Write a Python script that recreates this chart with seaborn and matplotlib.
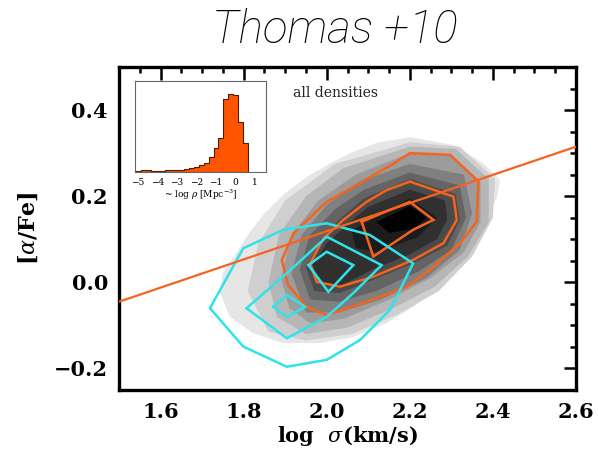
import numpy as np
import pandas as pd
import matplotlib
matplotlib.use("Agg")
import matplotlib.pyplot as plt
from matplotlib.ticker import MultipleLocator, FuncFormatter
import seaborn as sns

# ---- data -------------------------------------------------------------
# linear [alpha/Fe] - sigma relation
fit_sigma = [1.5, 2.6]
fit_alpha = [-0.045, 0.315]

# density levels of the full sample (outermost -> innermost), (log sigma, [a/Fe])
all_lvl1 = [(2.200, 0.337), (2.304, 0.319), (2.376, 0.277), (2.417, 0.238), (2.410, 0.198),
            (2.386, 0.145), (2.338, 0.068), (2.272, -0.011), (2.208, -0.057), (2.145, -0.094),
            (2.063, -0.127), (1.984, -0.141), (1.895, -0.141), (1.822, -0.118), (1.767, -0.080),
            (1.743, -0.025), (1.750, 0.022), (1.779, 0.063), (1.815, 0.117), (1.851, 0.161),
            (1.900, 0.207), (1.952, 0.245), (2.001, 0.272), (2.056, 0.300), (2.121, 0.324)]
all_lvl2 = [(1.81, -0.02), (1.835, 0.09), (1.90, 0.19), (2.02, 0.275), (2.20, 0.325), (2.32, 0.315),
            (2.405, 0.24), (2.40, 0.15), (2.35, 0.06), (2.27, -0.02), (2.17, -0.075), (2.06, -0.12),
            (1.95, -0.135), (1.86, -0.115)]
all_lvl3 = [(1.86, 0.0), (1.885, 0.11), (1.95, 0.20), (2.04, 0.265), (2.20, 0.315), (2.31, 0.31),
            (2.39, 0.24), (2.39, 0.14), (2.34, 0.06), (2.26, -0.01), (2.16, -0.06), (2.05, -0.105),
            (1.95, -0.12), (1.88, -0.08)]
all_lvl4 = [(1.89, 0.01), (1.915, 0.11), (1.98, 0.19), (2.07, 0.25), (2.20, 0.30), (2.30, 0.295),
            (2.37, 0.235), (2.37, 0.14), (2.33, 0.07), (2.25, 0.01), (2.15, -0.04), (2.04, -0.085),
            (1.96, -0.095), (1.91, -0.06)]
all_lvl5 = [(1.915, 0.02), (1.94, 0.11), (2.00, 0.18), (2.08, 0.235), (2.20, 0.275), (2.33, 0.25),
            (2.35, 0.16), (2.32, 0.075), (2.24, 0.01), (2.13, -0.04), (2.03, -0.07), (1.95, -0.07)]
all_lvl6 = [(1.935, 0.03), (1.96, 0.11), (2.02, 0.17), (2.09, 0.215), (2.20, 0.255), (2.32, 0.225),
            (2.335, 0.15), (2.30, 0.075), (2.22, 0.025), (2.12, -0.02), (2.03, -0.045), (1.96, -0.04)]
all_lvl7 = [(1.950, 0.035), (1.985, 0.10), (2.035, 0.15), (2.09, 0.195), (2.20, 0.24), (2.31, 0.205),
            (2.32, 0.145), (2.29, 0.085), (2.21, 0.045), (2.11, 0.005), (2.03, -0.025), (1.97, -0.02)]
all_lvl8 = [(1.965, 0.040), (2.00, 0.09), (2.05, 0.135), (2.10, 0.175), (2.20, 0.215), (2.285, 0.19),
            (2.29, 0.145), (2.265, 0.10), (2.20, 0.065), (2.11, 0.03), (2.04, -0.005), (1.99, -0.008)]
all_lvl9 = [(2.06, 0.12), (2.20, 0.195), (2.265, 0.15), (2.22, 0.105), (2.12, 0.07), (2.07, 0.08)]
all_lvl10 = [(2.12, 0.14), (2.20, 0.178), (2.24, 0.15), (2.21, 0.125), (2.15, 0.115)]
gray_levels = [all_lvl1, all_lvl2, all_lvl3, all_lvl4, all_lvl5, all_lvl6, all_lvl7, all_lvl8,
               all_lvl9, all_lvl10]
gray_colors = ["#e6e6e6", "#cfcfcf", "#b6b6b6", "#9c9c9c", "#808080", "#646464", "#4a4a4a",
               "#303030", "#1c1c1c", "#020202"]

# high-density subsample contours
hi_outer = [(2.200, 0.300), (2.297, 0.296), (2.365, 0.234), (2.361, 0.141), (2.321, 0.091),
            (2.257, 0.036), (2.192, -0.011), (2.096, -0.045), (2.000, -0.076), (1.952, -0.057),
            (1.907, -0.006), (1.892, 0.052), (1.920, 0.114), (2.000, 0.187), (2.080, 0.230),
            (2.120, 0.253), (2.160, 0.275)]
hi_mid = [(2.200, 0.234), (2.305, 0.199), (2.313, 0.145), (2.281, 0.091), (2.208, 0.052),
          (2.112, 0.013), (2.032, -0.010), (1.976, 0.001), (1.960, 0.044), (1.992, 0.102),
          (2.040, 0.145), (2.096, 0.187), (2.144, 0.214)]
hi_inner = [(2.084, 0.141), (2.200, 0.187), (2.257, 0.145), (2.208, 0.122), (2.112, 0.060)]

# low-density subsample contours
lo_outer = [(1.719, -0.060), (1.799, 0.079), (1.895, 0.122), (2.000, 0.137), (2.104, 0.110),
            (2.208, 0.044), (2.152, -0.064), (2.080, -0.134), (2.000, -0.180), (1.904, -0.196),
            (1.799, -0.149)]
lo_mid = [(1.807, -0.060), (1.904, 0.021), (2.000, 0.106), (2.132, 0.040), (2.064, -0.025),
          (2.000, -0.080), (1.904, -0.130)]
lo_peak_a = [(1.956, 0.040), (2.000, 0.071), (2.064, 0.040), (2.004, -0.022)]
lo_peak_b = [(1.871, -0.057), (1.904, -0.029), (1.948, -0.057), (1.904, -0.080)]

# environmental density distribution
rho_left_edges = [-5.10, -4.85, -4.60, -4.35, -4.10, -3.85, -3.60, -3.35, -3.10, -2.85, -2.60,
                  -2.35, -2.10, -1.85, -1.60, -1.35, -1.10, -0.85, -0.60, -0.35, -0.10, 0.15, 0.40]
rho_counts = [3, 6, 6, 4, 4, 4, 6, 5, 6, 5, 10, 11, 15, 21, 28, 46, 73, 102, 222, 236, 232, 152, 87]
rho_bin_width = 0.25

# ---- style ------------------------------------------------------------
sns.set_theme(style="white")
plt.rcParams["font.family"] = ["DejaVu Serif"]
plt.rcParams["mathtext.fontset"] = "dejavuserif"
plt.rcParams["text.color"] = "black"
plt.rcParams["axes.labelcolor"] = "black"
plt.rcParams["xtick.color"] = "black"
plt.rcParams["ytick.color"] = "black"

ORANGE = "#f4641e"
CYAN = "#2fe3e8"

fig = plt.figure(figsize=(5.98, 4.61), dpi=100)
ax = fig.add_axes([119 / 598, 1 - 390 / 461, 457 / 598, 323 / 461])

for poly, col in zip(gray_levels, gray_colors):
    px, py = zip(*poly)
    ax.fill(px, py, color=col, lw=0, zorder=1)

for poly, col in [(hi_outer, ORANGE), (hi_mid, ORANGE), (hi_inner, ORANGE),
                  (lo_outer, CYAN), (lo_mid, CYAN), (lo_peak_a, CYAN), (lo_peak_b, CYAN)]:
    px, py = zip(*(poly + poly[:1]))
    ax.plot(px, py, color=col, lw=1.8, zorder=3, solid_joinstyle="miter")

sns.lineplot(x=fit_sigma, y=fit_alpha, ax=ax, color=ORANGE, lw=1.6, zorder=4)

ax.set_xlim(1.5, 2.6)
ax.set_ylim(-0.25, 0.5)
ax.xaxis.set_major_locator(MultipleLocator(0.2))
ax.xaxis.set_minor_locator(MultipleLocator(0.05))
ax.yaxis.set_major_locator(MultipleLocator(0.2))
ax.yaxis.set_minor_locator(MultipleLocator(0.05))
ax.tick_params(which="both", direction="in", top=True, right=True, width=1.8, color="black")
ax.tick_params(which="major", length=9)
ax.tick_params(which="minor", length=4.5)
ax.tick_params(axis="x", which="major", pad=9)
ax.tick_params(axis="y", which="major", pad=8)
fmt = FuncFormatter(lambda v, p: f"{v:.1f}".replace("-", "\u2212"))
ax.xaxis.set_major_formatter(fmt)
ax.yaxis.set_major_formatter(fmt)
for lab in ax.get_xticklabels() + ax.get_yticklabels():
    lab.set_fontsize(15)
    lab.set_fontweight("bold")
for s in ax.spines.values():
    s.set_linewidth(2.4)
    s.set_color("black")

ax.set_xlabel("log  $\\sigma$(km/s)", fontsize=15, fontweight="bold", labelpad=1)
ax.set_ylabel("[$\\alpha$/Fe]", fontsize=16, fontweight="bold", labelpad=10)
ax.text(1.919, 0.44, "all densities", fontsize=10, color="#222222", va="center", ha="left")

fig.text(0.56, 0.935, "Thomas +10", fontsize=33, fontstyle="italic", fontweight="light",
         family=["Roboto", "DejaVu Sans"], color="black", ha="center", va="center")

# ---- inset: density histogram -------------------------------------------
ins = fig.add_axes([135 / 598, 1 - 172 / 461, 131 / 598, 91 / 461])
rho_df = pd.DataFrame({"rho": np.array(rho_left_edges) + rho_bin_width / 2, "n": rho_counts})
edges = list(rho_left_edges) + [rho_left_edges[-1] + rho_bin_width]
sns.histplot(data=rho_df, x="rho", weights="n", bins=edges, element="step", fill=True,
             color="#ff5500", alpha=1.0, edgecolor="#4a2000", linewidth=0.8, ax=ins)
ins.set_xlim(-5.15, 1.6)
ins.set_ylim(0, max(rho_counts) * 275 / 236)
ins.set_yticks([])
ins.set_xticks([-5, -4, -3, -2, -1, 0, 1])
ins.set_xticklabels(["\u22125", "\u22124", "\u22123", "\u22122", "\u22121", "0", "1"])
ins.tick_params(axis="x", length=0, pad=4, labelsize=6.5)
ins.set_xlabel("~ log $\\rho$ [Mpc$^{-3}$]", fontsize=6.5, labelpad=1)
ins.set_ylabel("")
for s in ins.spines.values():
    s.set_linewidth(0.8)
    s.set_color("#666666")

fig.savefig("out.png", dpi=100)
